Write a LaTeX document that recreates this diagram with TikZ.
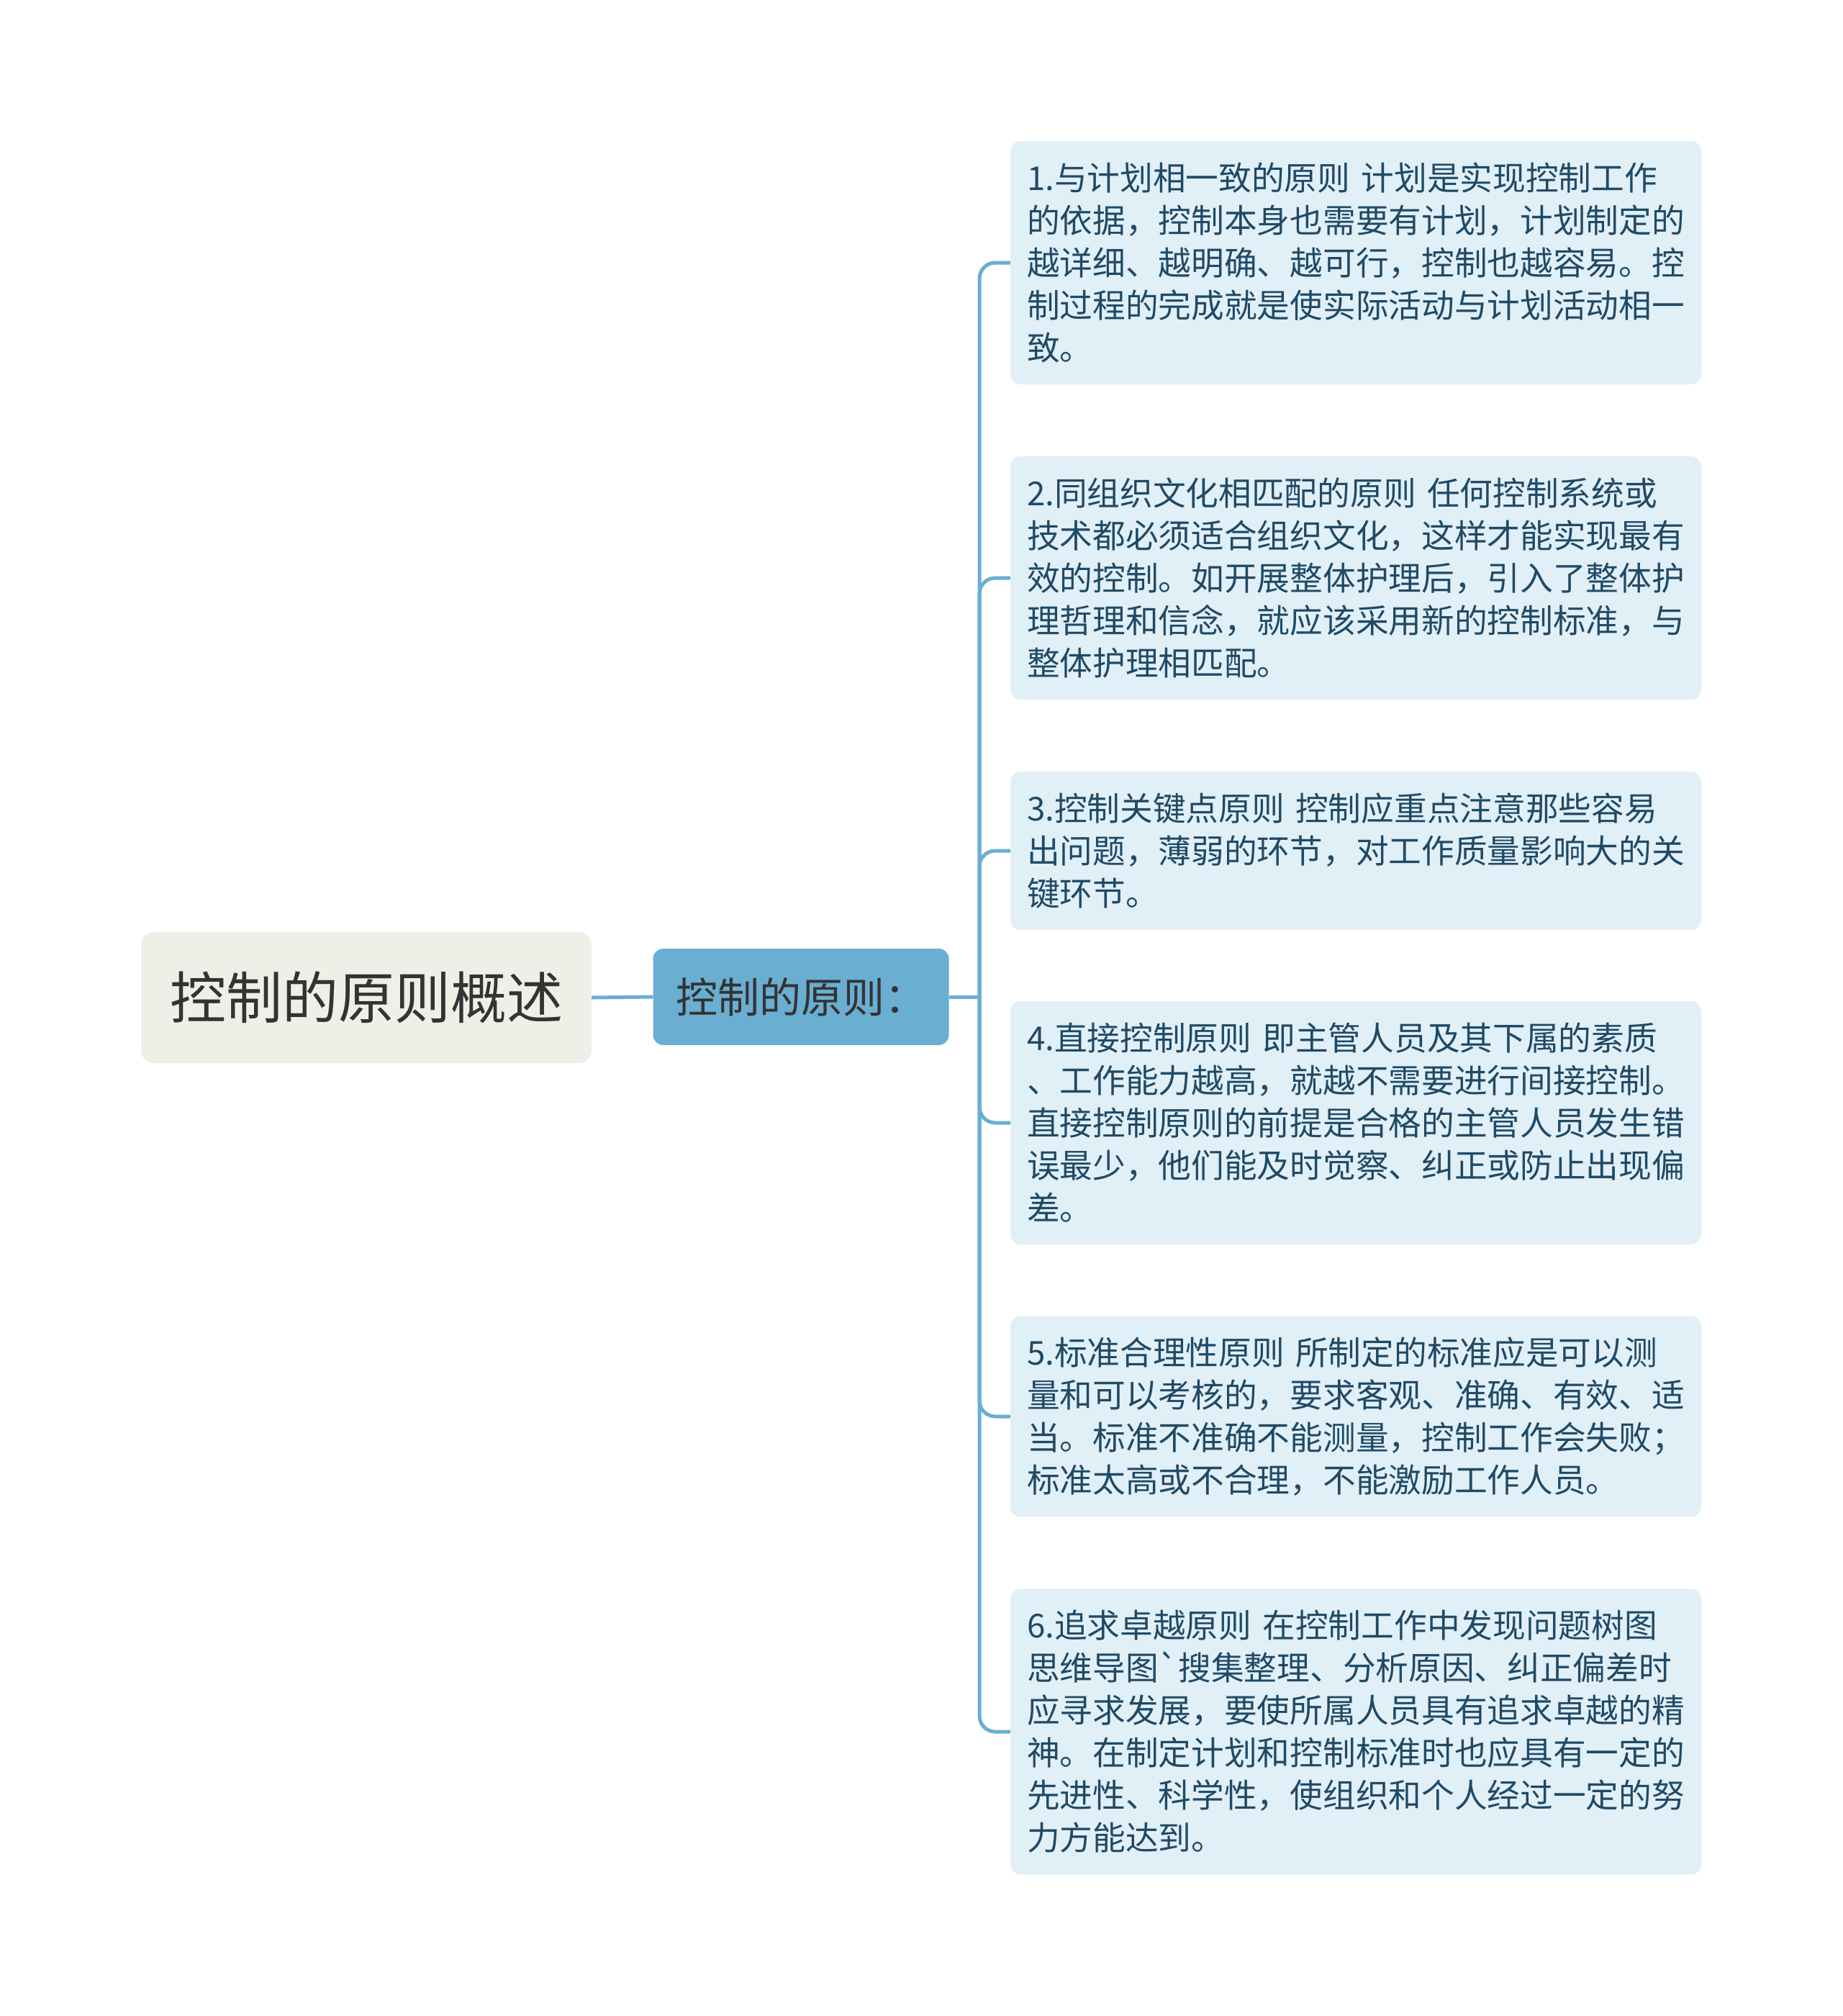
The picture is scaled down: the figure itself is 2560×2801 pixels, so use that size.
\documentclass[tikz,border=0pt]{standalone}
\usepackage{fontspec}
\setmainfont{Noto Sans CJK SC}
\newfontfamily\rawcjk{Noto Sans CJK SC}
\definecolor{rootfill}{HTML}{EFEFE8}
\definecolor{midfill}{HTML}{6AAED2}
\definecolor{linec}{HTML}{6AAED2}
\definecolor{boxfill}{HTML}{E1EFF7}
\definecolor{boxtext}{HTML}{1F4A66}
\definecolor{darktext}{HTML}{333333}
\tikzset{
  rootbox/.style={fill=rootfill, rounded corners=18pt, minimum width=626pt, minimum height=182pt, inner sep=0pt, text=darktext, font=\fontsize{78}{90}\selectfont},
  midbox/.style={fill=midfill, rounded corners=14pt, minimum width=411pt, minimum height=134pt, inner sep=0pt, text=darktext, font=\fontsize{58}{68}\selectfont},
  leafbox/.style={fill=boxfill, rounded corners=14pt, text width=914pt, inner xsep=23pt, inner ysep=0pt, align=left, text=boxtext, font=\fontsize{45.7}{59}\selectfont},
  conn/.style={draw=linec, line width=5pt, rounded corners=22pt}
}
\begin{document}
\begin{tikzpicture}[x=1pt,y=-1pt]
\useasboundingbox[fill=white] (0,0) rectangle (2560,2801);
\node[rootbox] (root) at (509,1386) {控制的原则概述};
\node[midbox] (mid) at (1113,1385) {控制的原则：};
\coordinate (j) at (1361,1385);

\node[leafbox, minimum height=338pt] (b1) at (1884,365) {1.与计划相一致的原则 计划是实现控制工作\\的依据，控制本身也需要有计划，计划制定的\\越详细、越明确、越可行，控制也越容易。控\\制过程的完成就是使实际活动与计划活动相一\\致。};
\node[leafbox, minimum height=338pt] (b2) at (1884,803) {2.同组织文化相匹配的原则 任何控制系统或\\技术都必须适合组织文化，这样才能实现最有\\效的控制。如开展整体护理后，引入了整体护\\理哲理和信念，就应该采用新的控制标准，与\\整体护理相匹配。};
\node[leafbox, minimum height=220pt] (b3) at (1884,1182) {3.控制关键点原则 控制应重点注意那些容易\\出问题，薄弱的环节，对工作质量影响大的关\\键环节。};
\node[leafbox, minimum height=338pt] (b4) at (1884,1560) {4.直接控制原则 即主管人员及其下属的素质\\、工作能力越高，就越不需要进行间接控制。\\直接控制原则的前提是合格的主管人员发生错\\误最少，他们能及时觉察、纠正或防止出现偏\\差。};
\node[leafbox, minimum height=279pt] (b5) at (1884,1968) {5.标准合理性原则 所制定的标准应是可以测\\量和可以考核的，要求客观、准确、有效、适\\当。标准不准确不能测量，控制工作会失败；\\标准太高或不合理，不能激励工作人员。};
\node[leafbox, minimum height=397pt] (b6) at (1884,2406) {6.追求卓越原则 在控制工作中发现问题树图\\思维导图{\rawcjk`}搜集整理、分析原因、纠正偏差时\\应寻求发展，要使所属人员具有追求卓越的精\\神。在制定计划和控制标准时也应具有一定的\\先进性、科学性，使组织和个人经过一定的努\\力方能达到。};

\draw[conn] (root.east) -- (mid.west);
\draw[conn] (mid.east) -- (j);
\foreach \b in {b1,b2,b3,b4,b5,b6} {
  \draw[conn] (j) |- (\b.west);
}
\end{tikzpicture}
\end{document}
